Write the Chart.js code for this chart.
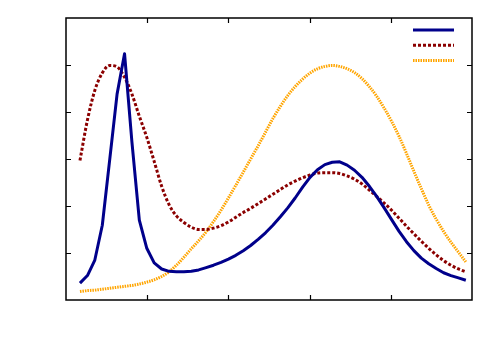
<!DOCTYPE html>
<html>
<head>
<meta charset="utf-8">
<script src="https://cdn.jsdelivr.net/npm/chart.js@4/dist/chart.umd.min.js"></script>
<style>
    html, body { margin: 0; padding: 0; background: #fff; }
    #wrap { width: 500px; height: 350px; }
</style>
</head>
<body>
<div id="wrap"><canvas id="lineChart"></canvas></div>
<script>
// sample positions along x (axis runs 0..5)
const xValues = [
    0.172, 0.264, 0.355, 0.447, 0.538, 0.629, 0.721, 0.812, 0.903, 0.995,
    1.086, 1.178, 1.269, 1.360, 1.452, 1.543, 1.634, 1.726, 1.817, 1.909,
    2.000, 2.091, 2.183, 2.274, 2.366, 2.457, 2.548, 2.640, 2.731, 2.822,
    2.914, 3.005, 3.097, 3.188, 3.279, 3.371, 3.462, 3.553, 3.645, 3.736,
    3.828, 3.919, 4.010, 4.102, 4.193, 4.284, 4.376, 4.467, 4.559, 4.650,
    4.741, 4.833, 4.924
];

// series values (axis runs 0..6)
const blueSeries = [
    0.36, 0.52, 0.85, 1.59, 2.98, 4.38, 5.24, 3.36, 1.70, 1.10,
    0.79, 0.66, 0.61, 0.60, 0.60, 0.61, 0.64, 0.69, 0.74, 0.80,
    0.87, 0.95, 1.05, 1.16, 1.29, 1.43, 1.59, 1.77, 1.96, 2.17,
    2.40, 2.61, 2.77, 2.88, 2.93, 2.94, 2.87, 2.76, 2.61, 2.42,
    2.20, 1.96, 1.71, 1.46, 1.24, 1.05, 0.89, 0.77, 0.67, 0.58,
    0.52, 0.47, 0.42
];

const redSeries = [
    2.97, 3.83, 4.46, 4.83, 4.99, 4.96, 4.74, 4.38, 3.91, 3.46,
    2.95, 2.42, 2.03, 1.79, 1.65, 1.55, 1.50, 1.50, 1.53, 1.58,
    1.66, 1.76, 1.86, 1.95, 2.05, 2.15, 2.25, 2.35, 2.45, 2.53,
    2.60, 2.66, 2.70, 2.71, 2.71, 2.69, 2.64, 2.57, 2.47, 2.34,
    2.20, 2.06, 1.91, 1.74, 1.57, 1.41, 1.25, 1.10, 0.96, 0.84,
    0.74, 0.66, 0.60
];

const orangeSeries = [
    0.18, 0.20, 0.21, 0.23, 0.25, 0.27, 0.29, 0.31, 0.34, 0.38,
    0.43, 0.50, 0.60, 0.74, 0.91, 1.09, 1.26, 1.45, 1.67, 1.91,
    2.17, 2.44, 2.72, 3.00, 3.28, 3.57, 3.86, 4.12, 4.35, 4.54,
    4.70, 4.83, 4.92, 4.97, 4.99, 4.97, 4.92, 4.84, 4.71, 4.54,
    4.33, 4.08, 3.80, 3.48, 3.12, 2.74, 2.37, 2.02, 1.72, 1.46,
    1.23, 1.02, 0.81
];

// tick marks (no labels shown)
const xTicks = [1, 2, 3, 4];
const yTicks = [1, 2, 3, 4, 5];

function toPoints(ys) {
    return xValues.map((x, i) => ({ x: x, y: ys[i] }));
}

// frame, inward ticks on all four sides, and a key with line samples only
const framePlugin = {
    id: 'frame',
    afterDatasetsDraw(chart) {
        const ctx = chart.ctx;
        const area = chart.chartArea;
        const xs = chart.scales.x;
        const ys = chart.scales.y;
        const tick = 5;

        ctx.save();
        ctx.strokeStyle = '#000';
        ctx.lineWidth = 1.5;
        ctx.strokeRect(area.left, area.top, area.right - area.left, area.bottom - area.top);

        ctx.lineWidth = 1.2;
        ctx.beginPath();
        xTicks.forEach(v => {
            const px = Math.round(xs.getPixelForValue(v)) + 0.5;
            ctx.moveTo(px, area.bottom);
            ctx.lineTo(px, area.bottom - tick);
            ctx.moveTo(px, area.top);
            ctx.lineTo(px, area.top + tick);
        });
        yTicks.forEach(v => {
            const py = Math.round(ys.getPixelForValue(v)) + 0.5;
            ctx.moveTo(area.left, py);
            ctx.lineTo(area.left + tick, py);
            ctx.moveTo(area.right, py);
            ctx.lineTo(area.right - tick, py);
        });
        ctx.stroke();

        // key samples
        chart.data.datasets.forEach((ds, i) => {
            const y = 30 + i * 15.3;
            ctx.beginPath();
            ctx.strokeStyle = ds.borderColor;
            ctx.lineWidth = ds.borderWidth;
            ctx.setLineDash(ds.borderDash || []);
            ctx.moveTo(413, y);
            ctx.lineTo(454, y);
            ctx.stroke();
        });
        ctx.restore();
    }
};

const ctx = document.getElementById('lineChart').getContext('2d');
const lineChart = new Chart(ctx, {
    type: 'line',
    data: {
        datasets: [
            {
                label: 'blue',
                data: toPoints(blueSeries),
                borderColor: '#00008b',
                borderWidth: 3,
                borderJoinStyle: 'round',
                pointRadius: 0,
                tension: 0
            },
            {
                label: 'red',
                data: toPoints(redSeries),
                borderColor: '#8b0000',
                borderWidth: 3,
                borderDash: [3, 2],
                pointRadius: 0,
                cubicInterpolationMode: 'monotone'
            },
            {
                label: 'orange',
                data: toPoints(orangeSeries),
                borderColor: '#ffa500',
                borderWidth: 3,
                borderDash: [1.5, 1],
                pointRadius: 0,
                cubicInterpolationMode: 'monotone'
            }
        ]
    },
    options: {
        responsive: true,
        maintainAspectRatio: false,
        animation: false,
        layout: {
            padding: { left: 66, right: 28, top: 18, bottom: 50 }
        },
        scales: {
            x: { type: 'linear', min: 0, max: 5, display: false },
            y: { type: 'linear', min: 0, max: 6, display: false }
        },
        plugins: {
            legend: { display: false },
            tooltip: { enabled: false }
        }
    },
    plugins: [framePlugin]
});
</script>
</body>
</html>
